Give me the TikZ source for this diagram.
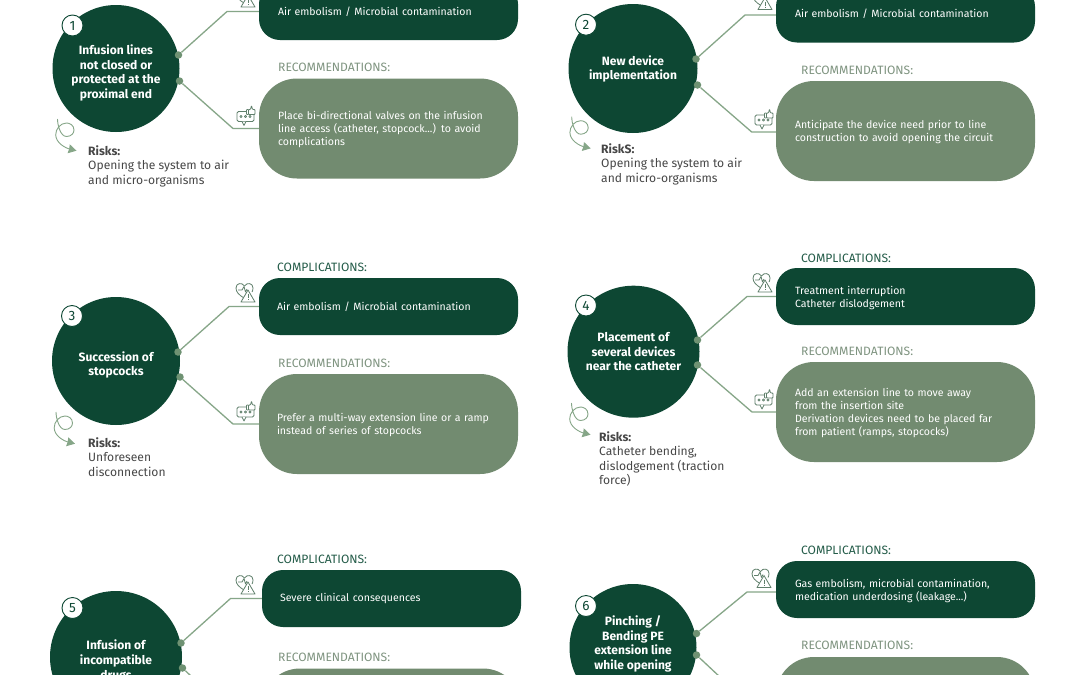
\documentclass[tikz,border=0pt]{standalone}
\usepackage{fontspec}
\setmainfont{Fira Sans}
\usetikzlibrary{arrows.meta}
\definecolor{deepgreen}{HTML}{0D4733}
\definecolor{sagegreen}{HTML}{728B70}
\definecolor{linkgreen}{HTML}{86A688}
\definecolor{dotgreen}{HTML}{6F9273}
\definecolor{icongreen}{HTML}{5F7F6B}
\definecolor{recolabel}{HTML}{7F9480}
\definecolor{complabel}{HTML}{245C49}
\definecolor{risktext}{HTML}{474747}
\tikzset{
  bodyfont/.style={font=\fontsize{10.55}{13}\selectfont},
  issue/.style={circle,fill=deepgreen,draw=none,minimum size=128pt,inner sep=0pt},
  title/.style={text=white,inner sep=0pt,align=center,font=\fontsize{12.05}{14.6}\selectfont\bfseries},
  badge/.style={circle,fill=white,draw=deepgreen,line width=0.9pt,minimum size=21pt,inner sep=0pt,text=deepgreen,font=\fontsize{13.5}{13.5}\selectfont},
  compbox/.style={rectangle,rounded corners=21pt,fill=deepgreen,draw=none,text=white,minimum width=259pt,minimum height=57pt,inner xsep=19pt,inner ysep=0pt,text width=221pt,align=left,bodyfont},
  compdrop/.style={execute at begin node={\rule{0pt}{11.5pt}}},
  recbox/.style={rectangle,rounded corners=38pt,fill=sagegreen,draw=none,text=white,minimum width=259pt,minimum height=100pt,inner xsep=19pt,inner ysep=0pt,text width=221pt,align=left,bodyfont,execute at begin node={\rule{0pt}{10.2pt}}},
  complbl/.style={anchor=west,inner sep=0pt,text=complabel,font=\fontsize{12.1}{13}\selectfont},
  reclbl/.style={anchor=west,inner sep=0pt,text=recolabel,font=\fontsize{12.1}{13}\selectfont},
  risklbl/.style={anchor=north west,inner sep=0pt,text=risktext,align=left,font=\fontsize{12.1}{14.6}\selectfont},
  dotend/.style={circle,fill=dotgreen,draw=none,minimum size=7.5pt,inner sep=0pt},
  link/.style={draw=linkgreen,line width=1.3pt},
  iconline/.style={draw=icongreen,line width=0.8pt,line join=round},
  pics/hearticon/.style={code={
    \draw[iconline] (8,15) .. controls (3,12) and (0,9) .. (0,5) .. controls (0,0) and (6,-1) .. (8.5,3) .. controls (11,-1) and (17,0) .. (17,5) .. controls (17,7) and (16.5,8) .. (16,9);
    \draw[iconline] (2,7) -- (6,7) -- (8,3.5) -- (9.5,9) -- (11,6);
    \draw[iconline,fill=white] (12,7) -- (19,19) -- (5,19) -- cycle;
    \draw[iconline] (12,11) -- (12,15) (12,16.2) -- (12,17.2);
  }},
  pics/chaticon/.style={code={
    \draw[iconline,rounded corners=1.5pt] (0,0) rectangle (17,10);
    \draw[iconline,fill=white] (5,10) -- (7,14) -- (9,10);
    \foreach \dotx in {4,8.5,13} \draw[iconline] (\dotx,5) circle (1.1pt);
    \draw[iconline,fill=white,rounded corners=0.6pt] (9.5,-2) rectangle (11.5,3);
    \draw[iconline,fill=white,rounded corners=0.8pt] (11.5,-2) -- (13.5,-2) -- (14.5,-6) -- (15.5,-2) -- (18,-2) -- (18,3) -- (11.5,3) -- cycle;
  }},
  pics/riskarrow/.style={code={
    \draw[draw=linkgreen,line width=0.9pt,-{Stealth[length=8pt,width=9pt,inset=0.5pt]}] (0,0) .. controls (0,6) and (3,17.5) .. (9,17.5) .. controls (14,17.5) and (16.5,14) .. (16.5,11) .. controls (16.5,6) and (12,4) .. (9,4) .. controls (3,4) and (-2,10) .. (-1.8,16) .. controls (-1.5,24) and (8,29) .. (19,31.7);
  }}
}
\begin{document}
\begin{tikzpicture}[x=1pt,y=-1pt]
  \path[use as bounding box,clip] (0,0) rectangle (1080,675);
  \fill[white] (0,0) rectangle (1080,675);

  \node[issue,minimum size=127pt] (issueA) at (116,68.5) {};
  \node[title,yshift=-4.5pt] (titleA) at (issueA.center) {Infusion lines\\not closed or\\protected at the\\proximal end};
  \node[badge] (badgeA) at (72.5,25.5) {1};
  \node[compbox] (compA) at (388.5,11.5) {Air embolism / Microbial contamination};
  \node[reclbl] (recA) at (278,67) {RECOMMENDATIONS:};
  \node[recbox] (boxA) at (388.5,128.5) {Place bi-directional valves on the infusion\\line access (catheter, stopcock...) to avoid\\complications};
  \node[dotend] (dotAa) at (178.5,55) {};
  \node[dotend] (dotAb) at (179.5,81) {};
  \coordinate (elbAa) at (227,11.5);
  \coordinate (elbAb) at (233,128.5);
  \draw[link] (dotAa) -- (elbAa) -- (compA.west);
  \draw[link] (dotAb) -- (elbAb) -- (boxA.west);
  \pic at (236,-12) {hearticon};
  \pic at (237,111.5) {chaticon};
  \pic at (57.5,119) {riskarrow};
  \node[risklbl] (riskA) at (88,145) {\textbf{Risks:}\\Opening the system to air\\and micro-organisms};

  \node[issue,minimum size=129pt] (issueB) at (633,68.5) {};
  \node[title,yshift=-0.5pt] (titleB) at (issueB.center) {New device\\implementation};
  \node[badge] (badgeB) at (586,24.7) {2};
  \node[compbox] (compB) at (905.5,14) {Air embolism / Microbial contamination};
  \node[reclbl] (recB) at (801,70) {RECOMMENDATIONS:};
  \node[recbox] (boxB) at (905.5,131) {Anticipate the device need prior to line\\construction to avoid opening the circuit};
  \node[dotend] (dotBa) at (696,59) {};
  \node[dotend] (dotBb) at (697.5,85) {};
  \coordinate (elbBa) at (745,15);
  \coordinate (elbBb) at (751.7,132);
  \draw[link] (dotBa) -- (elbBa) -- (compB.west |- elbBa);
  \draw[link] (dotBb) -- (elbBb) -- (boxB.west |- elbBb);
  \pic at (753,-9.5) {hearticon};
  \pic at (755,115) {chaticon};
  \pic at (571.7,116.7) {riskarrow};
  \node[risklbl] (riskB) at (601,143) {\textbf{RiskS:}\\Opening the system to air\\and micro-organisms};

  \node[issue] (issueC) at (116,361) {};
  \node[title,yshift=-4pt] (titleC) at (issueC.center) {Succession of\\stopcocks};
  \node[badge] (badgeC) at (72,316) {3};
  \node[complbl] (labC) at (277,267) {COMPLICATIONS:};
  \node[compbox,inner xsep=18pt,text width=223pt] (compC) at (388.5,306.5) {Air embolism / Microbial contamination};
  \node[reclbl] (recC) at (278,363) {RECOMMENDATIONS:};
  \node[recbox,inner xsep=18pt,text width=223pt] (boxC) at (388.5,424) {Prefer a multi-way extension line or a ramp\\instead of series of stopcocks};
  \node[dotend] (dotCa) at (178,352) {};
  \node[dotend] (dotCb) at (180,377) {};
  \coordinate (elbCa) at (229,306.5);
  \coordinate (elbCb) at (233,424);
  \draw[link] (dotCa) -- (elbCa) -- (compC.west);
  \draw[link] (dotCb) -- (elbCb) -- (boxC.west);
  \pic at (236,283) {hearticon};
  \pic at (237,407) {chaticon};
  \pic at (56,412) {riskarrow};
  \node[risklbl] (riskC) at (88,437) {\textbf{Risks:}\\Unforeseen\\disconnection};

  \node[issue,minimum size=132pt] (issueD) at (633.5,351.7) {};
  \node[title] (titleD) at (issueD.center) {Placement of\\several devices\\near the catheter};
  \node[badge] (badgeD) at (586,305.5) {4};
  \node[complbl] (labD) at (801,258) {COMPLICATIONS:};
  \node[compbox,compdrop] (compD) at (905.5,296.5) {Treatment interruption\\Catheter dislodgement};
  \node[reclbl] (recD) at (801,351) {RECOMMENDATIONS:};
  \node[recbox] (boxD) at (905.5,412) {Add an extension line to move away\\from the insertion site\\Derivation devices need to be placed far\\from patient (ramps, stopcocks)};
  \node[dotend] (dotDa) at (697.5,340) {};
  \node[dotend] (dotDb) at (697.5,365) {};
  \coordinate (elbDa) at (747,296.5);
  \coordinate (elbDb) at (752,412);
  \draw[link] (dotDa) -- (elbDa) -- (compD.west);
  \draw[link] (dotDb) -- (elbDb) -- (boxD.west);
  \pic at (753,273) {hearticon};
  \pic at (755,395) {chaticon};
  \pic at (571.5,403) {riskarrow};
  \node[risklbl] (riskD) at (599,431) {\textbf{Risks:}\\Catheter bending,\\dislodgement (traction\\force)};

  \node[issue,minimum size=132pt] (issueE) at (116,657) {};
  \node[title,yshift=-4pt] (titleE) at (issueE.center) {Infusion of\\incompatible\\drugs};
  \node[badge] (badgeE) at (72.5,608) {5};
  \node[complbl] (labE) at (277,559) {COMPLICATIONS:};
  \node[compbox,inner xsep=18pt,text width=223pt] (compE) at (391.5,598.5) {Severe clinical consequences};
  \node[reclbl] (recE) at (278,657) {RECOMMENDATIONS:};
  \node[recbox] (boxE) at (391.5,718.5) {};
  \node[dotend] (dotEa) at (181,643) {};
  \node[dotend] (dotEb) at (182.5,668) {};
  \coordinate (elbEa) at (230.5,598.5);
  \coordinate (elbEb) at (236,718.5);
  \draw[link] (dotEa) -- (elbEa) -- (compE.west);
  \draw[link] (dotEb) -- (elbEb) -- (boxE.west);
  \pic at (236,575) {hearticon};

  \node[issue,minimum size=127pt] (issueF) at (633,647.5) {};
  \node[title,yshift=-2.5pt] (titleF) at (issueF.center) {Pinching /\\Bending PE\\extension line\\while opening\\at the};
  \node[badge] (badgeF) at (586,606) {6};
  \node[complbl] (labF) at (801,550) {COMPLICATIONS:};
  \node[compbox,compdrop] (compF) at (905.5,589.5) {Gas embolism, microbial contamination,\\medication underdosing (leakage...)};
  \node[reclbl] (recF) at (801,645) {RECOMMENDATIONS:};
  \node[recbox] (boxF) at (905.5,707) {};
  \node[dotend] (dotFa) at (696.5,633.5) {};
  \node[dotend] (dotFb) at (696.5,655) {};
  \coordinate (elbFa) at (747,592);
  \coordinate (elbFb) at (752,707);
  \draw[link] (dotFa) -- (elbFa) -- (compF.west |- elbFa);
  \draw[link] (dotFb) -- (elbFb) -- (boxF.west);
  \pic at (752,568.5) {hearticon};
\end{tikzpicture}
\end{document}
